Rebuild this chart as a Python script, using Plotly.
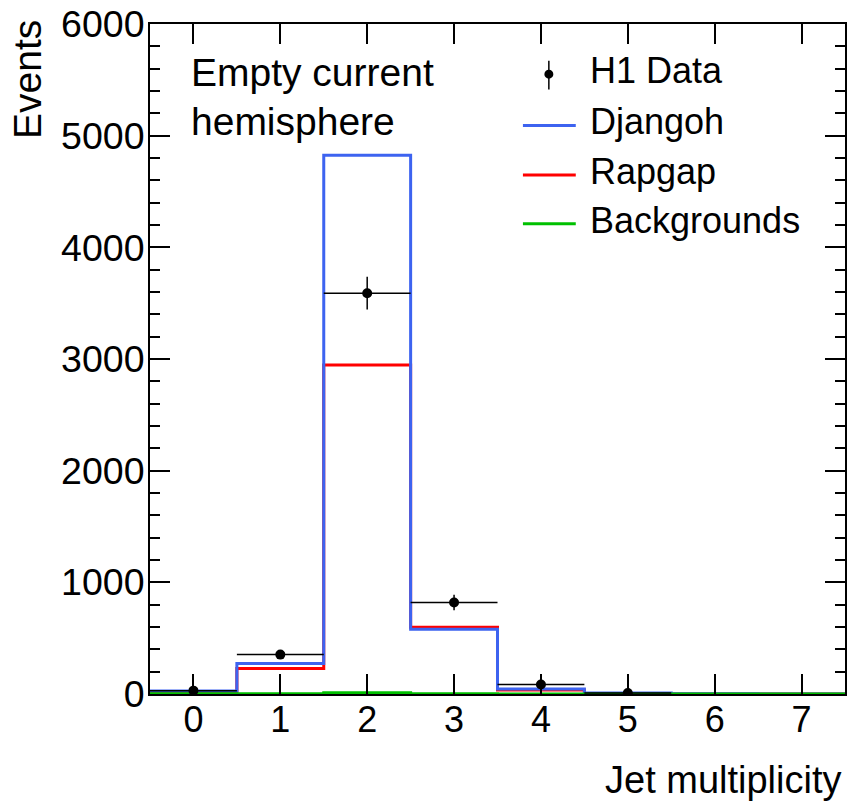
import plotly.graph_objects as go

# ---- data ----
jet_mult = [0, 1, 2, 3, 4, 5, 6, 7]
djangoh = [27, 273, 4826, 579, 45, 8, 2, 1]
rapgap = [20, 229, 2947, 597, 35, 5, 1, 0]
backgrounds = [2, 2, 12, 2, 1, 1, 0, 0]
data_x = [0, 1, 2, 3, 4, 5]
data_y = [30, 353, 3590, 820, 85, 8]
data_err = [15, 30, 147, 70, 25, 5]
y_ticks = [0, 1000, 2000, 3000, 4000, 5000, 6000]

FONT = "Liberation Sans, Arial, Helvetica, sans-serif"
BLUE = "#3d63f0"
RED = "#ff0000"
GREEN = "#00c000"

def step(vals):
    xs = [c - 0.5 for c in jet_mult] + [jet_mult[-1] + 0.5]
    ys = list(vals) + [vals[-1]]
    return xs, ys

fig = go.Figure()
for vals, col in [(rapgap, RED), (djangoh, BLUE), (backgrounds, GREEN)]:
    xs, ys = step(vals)
    fig.add_trace(go.Scatter(x=xs, y=ys, mode="lines", line=dict(color=col, width=3, shape="hv"),
                             showlegend=False, hoverinfo="skip"))

fig.add_trace(go.Scatter(
    x=data_x, y=data_y, mode="markers",
    marker=dict(color="black", size=10),
    error_y=dict(type="data", array=data_err, color="black", thickness=1.5, width=0),
    error_x=dict(type="constant", value=0.5, color="black", thickness=1.5, width=0),
    showlegend=False))

W, H = 850, 803
L, R, T, B = 150, 3, 20, 109
pw, ph = W - L - R, H - T - B

def px(xp):
    return (xp - L) / pw

def py(yp):
    return (H - B - yp) / ph

shapes = []
annotations = []
# legend
leg = [("Djangoh", BLUE, 122), ("Rapgap", RED, 172), ("Backgrounds", GREEN, 221)]
for name, col, yc in leg:
    shapes.append(dict(type="line", xref="paper", yref="paper", x0=px(524), x1=px(577),
                       y0=py(yc), y1=py(yc), line=dict(color=col, width=3)))
    annotations.append(dict(text=name, xref="paper", yref="paper", x=px(589), y=py(yc - 3.5),
                            xanchor="left", yanchor="middle", showarrow=False,
                            font=dict(size=36, color="black", family=FONT)))
shapes.append(dict(type="line", xref="paper", yref="paper", x0=px(550), x1=px(550),
                   y0=py(57), y1=py(86), line=dict(color="black", width=1.5)))
shapes.append(dict(type="circle", xref="paper", yref="paper", x0=px(545.5), x1=px(554.5),
                   y0=py(75), y1=py(66), fillcolor="black", line=dict(color="black", width=0)))
annotations.append(dict(text="H1 Data", xref="paper", yref="paper", x=px(589), y=py(66.5),
                        xanchor="left", yanchor="middle", showarrow=False,
                        font=dict(size=36, color="black", family=FONT)))
annotations.append(dict(text="Empty current", xref="paper", yref="paper", x=px(189), y=py(68.5),
                        xanchor="left", yanchor="middle", showarrow=False,
                        font=dict(size=39, color="black", family=FONT)))
annotations.append(dict(text="hemisphere", xref="paper", yref="paper", x=px(189), y=py(118.5),
                        xanchor="left", yanchor="middle", showarrow=False,
                        font=dict(size=39, color="black", family=FONT)))
annotations.append(dict(text="Jet multiplicity", xref="paper", yref="paper", x=px(846), y=py(781),
                        xanchor="right", yanchor="middle", showarrow=False,
                        font=dict(size=38, color="black", family=FONT)))
annotations.append(dict(text="Events", xref="paper", yref="paper", x=px(27), y=py(14),
                        xanchor="center", yanchor="top", textangle=-90, showarrow=False,
                        font=dict(size=39, color="black", family=FONT)))

fig.update_layout(
    width=W, height=H,
    margin=dict(l=L, r=R, t=T, b=B, pad=0),
    paper_bgcolor="white", plot_bgcolor="white",
    font=dict(family=FONT, size=36, color="black"),
    shapes=shapes, annotations=annotations,
    showlegend=False,
    xaxis=dict(range=[-0.5, 7.5], tickvals=jet_mult, ticktext=[str(v) for v in jet_mult],
               ticks="inside", ticklen=20, tickwidth=1.5, tickcolor="black",
               showline=True, linecolor="black", linewidth=2, mirror="ticks",
               showgrid=False, zeroline=False, ticklabelstandoff=-7,
               tickfont=dict(size=36, family=FONT)),
    yaxis=dict(range=[0, 6001], tickvals=y_ticks, ticktext=[str(v) for v in y_ticks],
               ticks="inside", ticklen=20, tickwidth=1.5, tickcolor="black",
               minor=dict(dtick=200, ticks="inside", ticklen=10, tickwidth=1.5, tickcolor="black"),
               showline=True, linecolor="black", linewidth=2, mirror="ticks",
               showgrid=False, zeroline=False, ticklabelstandoff=-4,
               ticklabeloverflow="allow",
               tickfont=dict(size=37.5, family=FONT)),
)

fig.write_html("out.html")
